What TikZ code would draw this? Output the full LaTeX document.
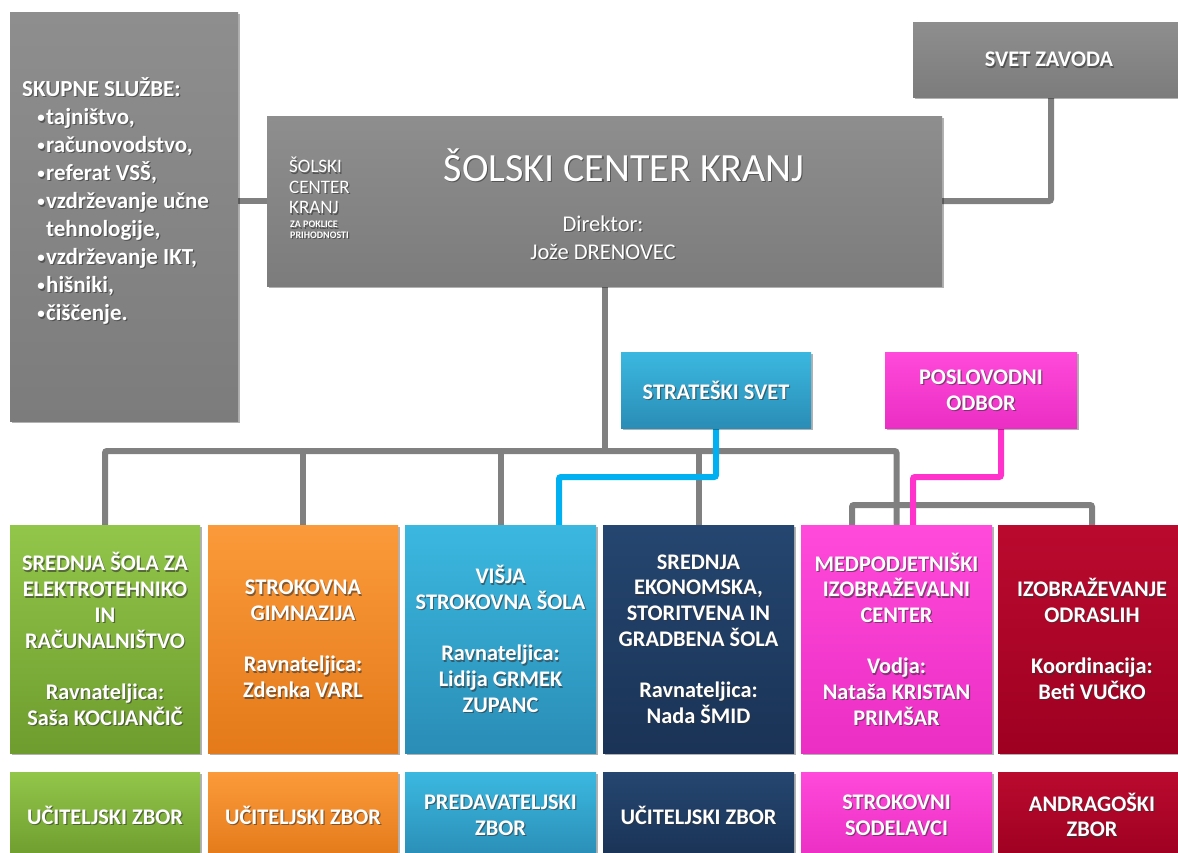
\documentclass[tikz,border=0pt]{standalone}
\usepackage{fontspec}
\setmainfont{Carlito}
\usetikzlibrary{shadows,backgrounds}
\definecolor{lgray}{HTML}{808080}
\definecolor{lblue}{HTML}{00B0F0}
\definecolor{lpink}{HTML}{FF33CC}
\definecolor{gA}{HTML}{8E8E8E}\definecolor{gB}{HTML}{858585}\definecolor{gC}{HTML}{7C7C7C}
\definecolor{grA}{HTML}{92C64A}\definecolor{grB}{HTML}{7DAF37}\definecolor{grC}{HTML}{6E9C2E}
\definecolor{orA}{HTML}{FB9A3A}\definecolor{orB}{HTML}{F68B26}\definecolor{orC}{HTML}{E47A1A}
\definecolor{blA}{HTML}{3BB8E0}\definecolor{blB}{HTML}{32A6CF}\definecolor{blC}{HTML}{2A8DB6}
\definecolor{dbA}{HTML}{254670}\definecolor{dbB}{HTML}{1F3B61}\definecolor{dbC}{HTML}{1A3356}
\definecolor{pkA}{HTML}{FF4ADB}\definecolor{pkB}{HTML}{F83AD2}\definecolor{pkC}{HTML}{EB2EC4}
\definecolor{rdA}{HTML}{BA0A2E}\definecolor{rdB}{HTML}{AF0427}\definecolor{rdC}{HTML}{9E0021}
\tikzset{
  box/.style={rectangle, draw=none, inner sep=0pt, outer sep=0pt,
    drop shadow={shadow xshift=1.5pt, shadow yshift=-2pt, opacity=0.3, fill=black}},
  fgray/.style={top color=gA, middle color=gB, bottom color=gC},
  fgreen/.style={top color=grA, middle color=grB, bottom color=grC},
  forange/.style={top color=orA, middle color=orB, bottom color=orC},
  fblue/.style={top color=blA, middle color=blB, bottom color=blC},
  fdblue/.style={top color=dbA, middle color=dbB, bottom color=dbC},
  fpink/.style={top color=pkA, middle color=pkB, bottom color=pkC},
  fred/.style={top color=rdA, middle color=rdB, bottom color=rdC},
  txt/.style={text=white, font=\bfseries\fontsize{22.3}{25.7}\selectfont, align=center, inner sep=0pt},
  tsh/.style={txt, text=black!80, text opacity=0.6},
  gline/.style={draw=lgray, line width=6pt, rounded corners=2pt},
  bline/.style={draw=lblue, line width=6pt, rounded corners=2pt},
  pline/.style={draw=lpink, line width=6pt, rounded corners=2pt},
}
\newcommand\obox[7]{%
  \node[box,#6,anchor=north west,minimum width={(#4-#2)*1pt},minimum height={(#5-#3)*1pt}] (#1) at (#2,#3) {};
  \node[tsh] (#1s) at ([shift={(1.2pt,-1.4pt)}]#1.center) {#7};
  \node[txt] (#1t) at (#1.center) {#7};
}
\newcommand\stext[4]{%
  \node[tsh,#3] (#1s) at ([shift={(1.2pt,-1.4pt)}]#2) {#4};
  \node[txt,#3] (#1) at (#2) {#4};
}
\newcommand\bul{\hspace*{14pt}\makebox[10pt][c]{\raisebox{1.5pt}{\fontsize{15}{15}\selectfont •}}}
\begin{document}
\begin{tikzpicture}[x=1pt,y=-1pt]
\useasboundingbox (0,0) rectangle (1178,852);
\clip (0,0) rectangle (1178,852);
% top boxes
\obox{skupne}{10}{12}{238}{421}{fgray}{}
\obox{center}{267}{116}{942}{286}{fgray}{}
\obox{sz}{913}{22}{1185}{97}{fgray}{SVET ZAVODA}
\obox{ss}{621}{352}{811}{428}{fblue}{STRATEŠKI SVET}
\obox{po}{885}{352}{1077}{428}{fpink}{POSLOVODNI\\ODBOR}
% skupne text
\stext{sktext}{22,77}{anchor=north west, align=left, font=\bfseries\fontsize{23}{28}\selectfont}{SKUPNE SLUŽBE:\\
\bul tajništvo,\\
\bul računovodstvo,\\
\bul referat VSŠ,\\
\bul vzdrževanje učne\\
\hspace*{24pt}tehnologije,\\
\bul vzdrževanje IKT,\\
\bul hišniki,\\
\bul čiščenje.}
% center box texts
\stext{logoa}{289,157}{anchor=north west, align=left, font=\fontsize{19}{20.5}\selectfont}{ŠOLSKI\\CENTER\\KRANJ}
\stext{logob}{290,221}{anchor=north west, align=left, font=\bfseries\fontsize{10}{10.5}\selectfont}{ZA POKLICE\\PRIHODNOSTI}
\stext{title}{624,181}{anchor=base, font=\fontsize{40}{46}\selectfont}{ŠOLSKI CENTER KRANJ}
\stext{dir}{603,231}{anchor=base, font=\fontsize{22.5}{28}\selectfont}{Direktor:}
\stext{dirn}{603,259}{anchor=base, font=\fontsize{22.5}{28}\selectfont}{Jože DRENOVEC}
% schools
\obox{green}{10}{525}{200}{753}{fgreen}{SREDNJA ŠOLA ZA\\ELEKTROTEHNIKO\\IN\\RAČUNALNIŠTVO\\[25.7pt]Ravnateljica:\\Saša KOCIJANČIČ}
\obox{orange}{208}{525}{398}{753}{forange}{STROKOVNA\\GIMNAZIJA\\[25.7pt]Ravnateljica:\\Zdenka VARL}
\obox{blue}{405}{525}{596}{753}{fblue}{VIŠJA\\STROKOVNA ŠOLA\\[25.7pt]Ravnateljica:\\Lidija GRMEK\\ZUPANC}
\obox{dblue}{603}{525}{794}{753}{fdblue}{SREDNJA\\EKONOMSKA,\\STORITVENA IN\\GRADBENA ŠOLA\\[25.7pt]Ravnateljica:\\Nada ŠMID}
\obox{pink}{801}{525}{992}{753}{fpink}{MEDPODJETNIŠKI\\IZOBRAŽEVALNI\\CENTER\\[25.7pt]Vodja:\\Nataša KRISTAN\\PRIMŠAR}
\obox{red}{998}{525}{1186}{753}{fred}{IZOBRAŽEVANJE\\ODRASLIH\\[25.7pt]Koordinacija:\\Beti VUČKO}
% bodies
\obox{green2}{10}{772}{200}{858}{fgreen}{UČITELJSKI ZBOR}
\obox{orange2}{208}{772}{398}{858}{forange}{UČITELJSKI ZBOR}
\obox{blue2}{405}{772}{596}{858}{fblue}{PREDAVATELJSKI\\ZBOR}
\obox{dblue2}{603}{772}{794}{858}{fdblue}{UČITELJSKI ZBOR}
\obox{pink2}{801}{772}{992}{858}{fpink}{STROKOVNI\\SODELAVCI}
\obox{red2}{998}{772}{1186}{858}{fred}{ANDRAGOŠKI\\ZBOR}
% helper coordinates
\coordinate (h1) at (0,201);
\coordinate (szx) at (1051,0);
\coordinate (bus) at (0,451);
\coordinate (b2) at (852,505);
\coordinate (bl) at (559,477);
\coordinate (pk) at (1001,477);
\coordinate (pkx) at (913,0);
\begin{scope}[on background layer]
\fill[white] (0,0) rectangle (1178,852);
\draw[gline] (skupne.east |- h1) -- (center.west |- h1);
\draw[gline] (szx |- sz.south) |- (center.east |- h1);
\draw[gline] (center.south) -- (center.south |- bus);
\draw[gline] (green.north) |- (pink.north |- bus) -- (pink.north);
\draw[gline] (orange.north) -- (orange.north |- bus);
\draw[gline] (blue.north) -- (blue.north |- bus);
\draw[gline] (dblue.north) -- (dblue.north |- bus);
\draw[gline] (b2 |- pink.north) |- (red.north |- b2) -- (red.north);
\draw[bline] (ss.south) |- (bl) -- (bl |- blue.north);
\draw[pline] (pk |- po.south) -- (pk) -| (pkx |- pink.north);
\end{scope}
\end{tikzpicture}
\end{document}
